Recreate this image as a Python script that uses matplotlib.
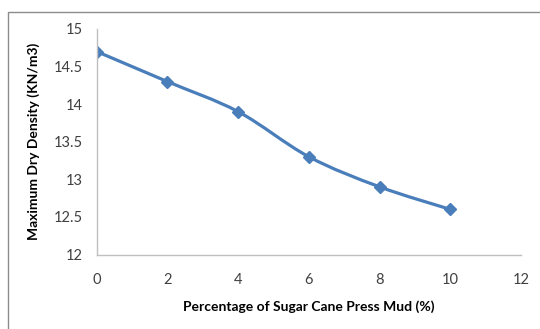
import numpy as np
import matplotlib.pyplot as plt
from matplotlib.path import Path
from matplotlib.patches import PathPatch, Rectangle

# data
press_mud = [0, 2, 4, 6, 8, 10]
dry_density = [14.7, 14.3, 13.9, 13.3, 12.9, 12.6]

blue = '#4A7EBB'
plt.rcParams['font.family'] = ['Lato', 'DejaVu Sans']

fig = plt.figure(figsize=(5.40, 3.29), dpi=100)
ax = fig.add_axes([0.179, 0.2264, 0.786, 0.6856])

# smoothed line like excel (catmull-rom as bezier segments)
x = np.array(press_mud, float)
y = np.array(dry_density, float)
verts = [(x[0], y[0])]
codes = [Path.MOVETO]
for i in range(len(x) - 1):
    p0 = (x[max(i - 1, 0)], y[max(i - 1, 0)])
    p1 = (x[i], y[i])
    p2 = (x[i + 1], y[i + 1])
    p3 = (x[min(i + 2, len(x) - 1)], y[min(i + 2, len(x) - 1)])
    c1 = (p1[0] + (p2[0] - p0[0]) / 6, p1[1] + (p2[1] - p0[1]) / 6)
    c2 = (p2[0] - (p3[0] - p1[0]) / 6, p2[1] - (p3[1] - p1[1]) / 6)
    verts += [c1, c2, p2]
    codes += [Path.CURVE4] * 3
ax.add_patch(PathPatch(Path(verts, codes), fill=False, edgecolor=blue, lw=2.3,
                       capstyle='round', joinstyle='round'))
ax.plot(press_mud, dry_density, linestyle='none', marker='D', ms=6.5, color=blue)

ax.set_xlim(0, 12)
ax.set_ylim(12, 15)
ax.set_xticks(range(0, 13, 2))
ax.set_yticks([12, 12.5, 13, 13.5, 14, 14.5, 15])
ax.set_yticklabels(['12', '12.5', '13', '13.5', '14', '14.5', '15'])
ax.tick_params(length=0, labelsize=10.5, colors='#404040')
ax.tick_params(axis='x', pad=13)
ax.tick_params(axis='y', pad=10)
for s in ['top', 'right']:
    ax.spines[s].set_visible(False)
for s in ['left', 'bottom']:
    ax.spines[s].set_color('#bfbfbf')
    ax.spines[s].set_linewidth(1.0)

ax.set_xlabel('Percentage of Sugar Cane Press Mud (%)', fontsize=10, fontweight='bold', labelpad=10)
ax.set_ylabel('Maximum Dry Density (KN/m3)', fontsize=10, fontweight='bold', labelpad=10)

fig.patches.append(Rectangle((8 / 540, -0.1), 1.2, 1.1 - 12 / 329, transform=fig.transFigure,
                             fill=False, edgecolor='#8c8c8c', lw=1.0))

fig.savefig('out.png', dpi=100)
